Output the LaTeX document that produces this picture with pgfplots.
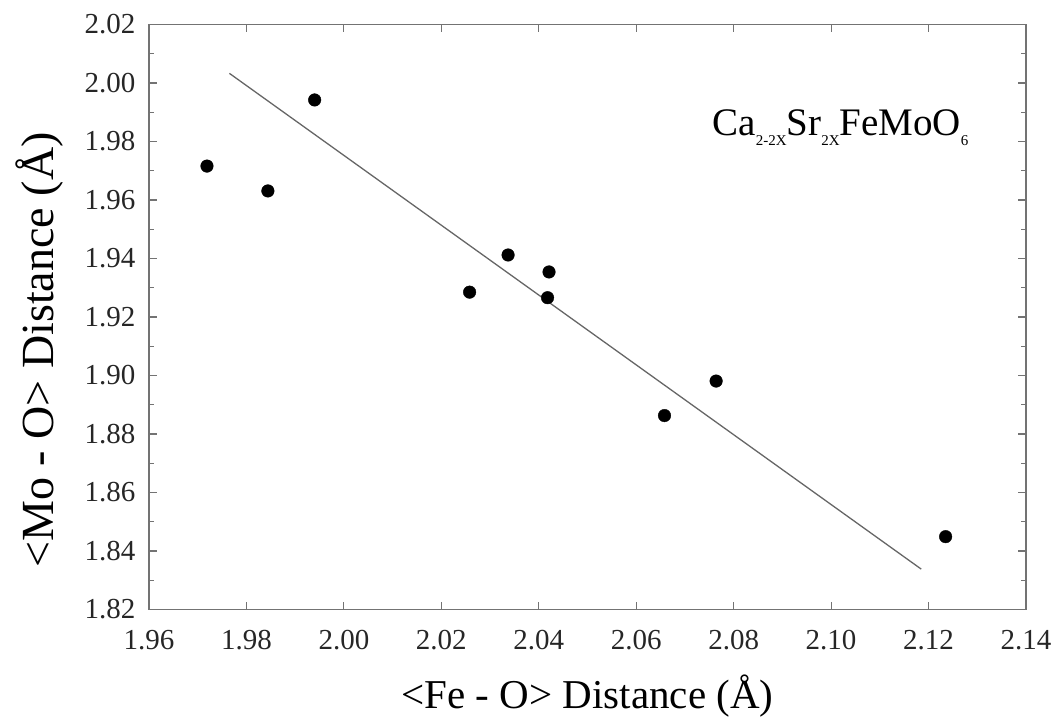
\documentclass[border=0pt]{standalone}
\usepackage{pgfplots}
\pgfplotsset{compat=1.18}
\usepackage{fontspec}
\setmainfont{Liberation Serif}
\newcommand{\sub}[1]{\raisebox{-10pt}{\fontsize{15}{15}\selectfont #1}}
\begin{document}
\begin{tikzpicture}
\begin{axis}[
  scale only axis,
  width=877pt, height=585pt,
  xmin=1.96, xmax=2.14, ymin=1.82, ymax=2.02,
  xtick={1.96,1.98,...,2.141},
  ytick={1.82,1.84,...,2.021},
  minor y tick num=1,
  tick align=inside,
  major tick length=8pt,
  minor tick length=5pt,
  axis line style={draw=black!55, line width=1.6pt},
  every tick/.style={draw=black!55, line width=1.2pt},
  /pgf/number format/assume math mode=true,
  /pgf/number format/fixed,
  /pgf/number format/fixed zerofill,
  /pgf/number format/precision=2,
  ticklabel style={font=\fontsize{29}{32}\selectfont, text=black!85},
  xticklabel style={yshift=-17pt},
  yticklabel style={xshift=-10pt},
  xlabel={\fontsize{41}{44}\selectfont <Fe - O> Distance (Å)},
  ylabel={\fontsize{46}{50}\selectfont <Mo - O> Distance (Å)},
  xlabel style={yshift=-18pt},
  ylabel style={yshift=15pt, xshift=-33pt},
  clip=false,
]
\addplot[draw=black!60, line width=1.3pt] coordinates {(1.9765,2.0033) (2.1185,1.8338)};
\addplot[only marks, mark=*, mark size=6.3pt, mark options={fill=black, draw=black}] coordinates {
(1.9719,1.9716)
(1.9844,1.9631)
(1.9940,1.9942)
(2.0258,1.9285)
(2.0337,1.9412)
(2.0421,1.9354)
(2.0418,1.9266)
(2.0658,1.8863)
(2.0764,1.8981)
(2.1235,1.8449)
};
\node[anchor=west, inner sep=0pt, font=\fontsize{39}{42}\selectfont] at (axis cs:2.0756,1.9846)
  {Ca\sub{2-2X}Sr\sub{2X}FeMoO\sub{6}};
\end{axis}
\pgfresetboundingbox
\path[use as bounding box] (current axis.south west)++(-149pt,-109.5pt) rectangle ([shift={(30pt,24.5pt)}]current axis.north east);
\end{tikzpicture}
\end{document}
